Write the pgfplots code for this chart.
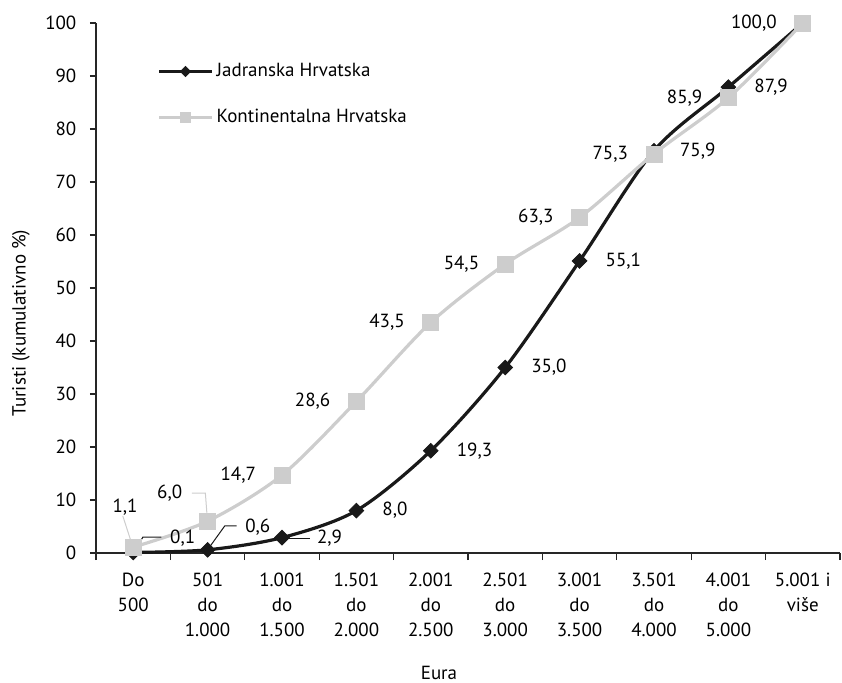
\documentclass[border=0pt]{standalone}
\usepackage{fontspec}
\setmainfont{PT Sans}
\usepackage{pgfplots}
\usepackage{pgfplotstable}
\pgfplotsset{compat=1.18}
\definecolor{jadran}{RGB}{25,25,25}
\definecolor{kont}{RGB}{205,205,205}

\pgfplotsset{
  jleg/.style={legend image code/.code={\draw[mark repeat=2, mark phase=2, ##1, mark size=1.8pt]
    plot coordinates {(0pt,0pt) (13.25pt,0pt) (26.5pt,0pt)};}},
  kleg/.style={legend image code/.code={\draw[mark repeat=2, mark phase=2, ##1, mark size=2.5pt]
    plot coordinates {(0pt,0pt) (13.25pt,0pt) (26.5pt,0pt)};}},
}

% x = razred (0 = Do 500 ... 9 = 5.001 i više), y = kumulativni %
\pgfplotstableread{
x y lab
0 0.1 {}
1 0.6 {}
2 2.9 {}
3 8.0 8,0
4 19.3 19,3
5 35.0 35,0
6 55.1 55,1
7 75.9 75,9
8 87.9 87,9
9 100.0 {}
}\jadranska

\pgfplotstableread{
x y lab
0 1.1 {}
1 6.0 {}
2 14.7 14,7
3 28.6 28,6
4 43.5 43,5
5 54.5 54,5
6 63.3 63,3
7 75.3 75,3
8 85.9 85,9
9 100.0 100,0
}\kontinentalna

\begin{document}
\begin{tikzpicture}[font=\fontsize{9.5}{12.5}\selectfont]
\useasboundingbox (-48pt,-64.5pt) rectangle (373pt,276.5pt);
\begin{axis}[
  scale only axis,
  width=372pt, height=265pt,
  xmin=-0.5, xmax=9.5, ymin=0, ymax=100,
  clip=false,
  axis x line*=bottom, axis y line*=left,
  axis line style={-, line width=0.6pt, black!85},
  tick style={line width=0.6pt, black!85},
  tick align=outside,
  major tick length=3pt, minor tick length=3.5pt,
  xtick={0,...,9},
  xticklabels={{Do\\500},{501\\do\\1.000},{1.001\\do\\1.500},{1.501\\do\\2.000},
    {2.001\\do\\2.500},{2.501\\do\\3.000},{3.001\\do\\3.500},{3.501\\do\\4.000},
    {4.001\\do\\5.000},{5.001 i\\više}},
  minor xtick={-0.5,0.5,...,9.5},
  major x tick style={draw=none},
  xticklabel style={align=center, anchor=north, yshift=-3.5pt},
  ytick={0,10,...,100},
  yticklabel style={xshift=-3.3pt},
  /pgf/number format/assume math mode=true,
  xlabel={Eura},
  ylabel={Turisti (kumulativno \%)},
  every axis x label/.style={at={(axis description cs:0.461,-0.2264)}, anchor=center},
  every axis y label/.style={at={(axis description cs:-0.1008,0.434)}, rotate=90, anchor=center},
  legend cell align=left,
  legend style={draw=none, fill=none, inner sep=0pt, row sep=11pt,
    at={(axis description cs:0.082,0.932)}, anchor=north west,
    nodes={inner sep=1.5pt, text height=7pt, text depth=2pt}},
]
\addplot[jadran, line width=1.6pt, smooth, tension=0.5,
  mark=square*, mark size=2.6pt,
  mark options={rotate=45, fill=jadran, draw=jadran, line width=0.4pt},
  nodes near coords, point meta=explicit symbolic,
  nodes near coords style={anchor=west, xshift=9.5pt, text=black},
  jleg]
  table[x=x, y=y, meta=lab] {\jadranska};
\addlegendentry{Jadranska Hrvatska}

\addplot[kont, line width=1.6pt, smooth, tension=0.5,
  mark=square*, mark size=4pt,
  mark options={fill=kont, draw=kont, line width=0.4pt},
  nodes near coords, point meta=explicit symbolic,
  nodes near coords style={anchor=east, xshift=-9.5pt, text=black},
  kleg]
  table[x=x, y=y, meta=lab] {\kontinentalna};
\addlegendentry{Kontinentalna Hrvatska}

% oznake s linijama vodilicama
\draw[kont, line width=0.5pt] (axis cs:-0.14,7.0) -- (axis cs:-0.02,1.8);
\node at (axis cs:-0.11,8.7) {1,1};
\draw[jadran, line width=0.5pt] (axis cs:0.02,0.3) -- (axis cs:0.13,3.0) -- (axis cs:0.38,3.0);
\node at (axis cs:0.665,2.8) {0,1};
\draw[kont, line width=0.5pt] (axis cs:0.79,11.3) -- (axis cs:0.97,11.3) -- (axis cs:0.99,7.6);
\node at (axis cs:0.49,11.3) {6,0};
\draw[jadran, line width=0.5pt] (axis cs:1.02,1.0) -- (axis cs:1.23,5.1) -- (axis cs:1.39,5.1);
\node at (axis cs:1.675,4.9) {0,6};
\draw[jadran, line width=0.5pt] (axis cs:2.10,2.8) -- (axis cs:2.37,2.8);
\node at (axis cs:2.64,2.8) {2,9};
\end{axis}
\end{tikzpicture}
\end{document}
